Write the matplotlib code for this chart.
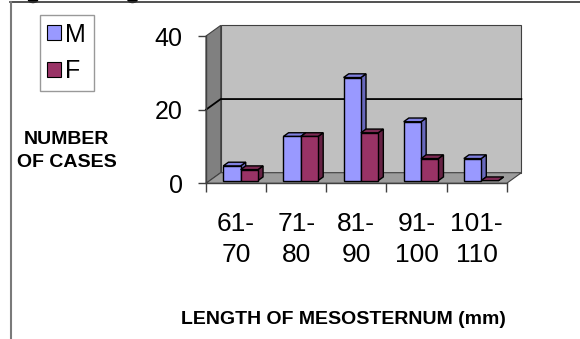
import matplotlib
matplotlib.use("Agg")
import matplotlib.pyplot as plt
from matplotlib.patches import Polygon, Patch, Ellipse
from matplotlib.lines import Line2D

# Data
categories = ["61-\n70", "71-\n80", "81-\n90", "91-\n100", "101-\n110"]
male = [4, 12, 28, 16, 6]
female = [3, 12, 13, 6, 0]
y_ticks = [0, 20, 40]
series_names = ["M", "F"]

plt.rcParams["font.family"] = ["Liberation Sans", "DejaVu Sans"]

W, H = 580, 339
fig = plt.figure(figsize=(W / 100, H / 100), dpi=100)
fig.patch.set_facecolor("white")

# front plane of the 3-D box
ax_l, ax_r, ax_t, ax_b = 206, 506.7, 36.0, 183.3
ax = fig.add_axes([ax_l / W, 1 - ax_b / H, (ax_r - ax_l) / W, (ax_b - ax_t) / H])
n = len(categories)
ymax = y_ticks[-1]
ax.set_xlim(0, n)
ax.set_ylim(0, ymax)
ax.set_facecolor("none")

# depth offset of the box (back plane relative to front plane), in data units
DX = 14.7 / ((ax_r - ax_l) / n)
DY = 10.6 / ((ax_b - ax_t) / ymax)


def poly(pts, fc, ec="#404040", lw=0.8, z=1):
    ax.add_patch(Polygon(pts, closed=True, facecolor=fc, edgecolor=ec,
                         linewidth=lw, clip_on=False, zorder=z))


# walls and floor
poly([(0, 0), (DX, DY), (DX, ymax + DY), (0, ymax)], "#808080", z=0.5)
poly([(DX, DY), (n + DX, DY), (n + DX, ymax + DY), (DX, ymax + DY)], "#C0C0C0", z=0.5)
poly([(0, 0), (DX, DY), (n + DX, DY), (n, 0)], "#9C9C9C", z=0.6)

# gridlines on side and back walls
for g in y_ticks[1:-1]:
    ax.plot([0, DX, n + DX], [g, g + DY, g + DY], color="black", lw=1.3,
            clip_on=False, zorder=0.8)

# 3-D columns
bw = 0.288
d0, dd = 0.25, 0.35
face_colors = {
    "M": ("#9999FF", "#8080E0", "#6868BC"),
    "F": ("#993366", "#7D2A54", "#662244"),
}
for i in range(n):
    for j, (name, vals) in enumerate(zip(series_names, [male, female])):
        front, top, side = face_colors[name]
        v = vals[i]
        x0 = i + 0.226 + j * bw + d0 * DX
        y0 = d0 * DY
        ox, oy = dd * DX, dd * DY
        z = 2 + i + j * 0.1
        poly([(x0 + bw, y0), (x0 + bw + ox, y0 + oy), (x0 + bw + ox, y0 + v + oy),
              (x0 + bw, y0 + v)], side, ec="black", lw=1.0, z=z)
        poly([(x0, y0 + v), (x0 + bw, y0 + v), (x0 + bw + ox, y0 + v + oy),
              (x0 + ox, y0 + v + oy)], top, ec="black", lw=1.0, z=z)
        if v > 0:
            poly([(x0, y0), (x0 + bw, y0), (x0 + bw, y0 + v), (x0, y0 + v)],
                 front, ec="black", lw=1.0, z=z)

# axes
for s in ["top", "right"]:
    ax.spines[s].set_visible(False)
for s in ["left", "bottom"]:
    ax.spines[s].set_color("#404040")
    ax.spines[s].set_linewidth(1.0)
    ax.spines[s].set_zorder(1)

ax.set_yticks(y_ticks)
ax.set_yticklabels([str(t) for t in y_ticks])
ax.tick_params(axis="y", direction="out", length=5.8, width=1.0, color="#404040",
               pad=11, labelsize=18)
ax.set_xticks(range(n + 1))
ax.set_xticklabels([""] * (n + 1))
ax.tick_params(axis="x", which="major", direction="out", length=6.5, width=1.0,
               color="#404040")
ax.set_xticks([i + 0.5 for i in range(n)], minor=True)
ax.set_xticklabels(categories, minor=True, fontsize=19, linespacing=1.35)
ax.tick_params(axis="x", which="minor", length=0, pad=21)

# axis titles
fig.text(66.5 / W, 1 - 151 / H, "NUMBER\nOF CASES", ha="center", va="center",
         fontsize=14, fontweight="bold", linespacing=1.4)
fig.text(343 / W, 1 - 319.5 / H, "LENGTH OF MESOSTERNUM (mm)", ha="center",
         va="center", fontsize=14, fontweight="bold")

# legend
handles = [Patch(facecolor=face_colors[s][0], edgecolor="black", linewidth=0.8)
           for s in series_names]
leg = fig.legend(handles, series_names, loc="upper left",
                 bbox_to_anchor=(39.5 / W, 1 - 15 / H), frameon=True, fancybox=False,
                 edgecolor="#808080", fontsize=18, handlelength=0.55,
                 handleheight=0.55, handletextpad=0.18, labelspacing=0.5,
                 borderpad=0.3, borderaxespad=0)
leg.get_frame().set_linewidth(1.0)

# surrounding frame lines
fig.add_artist(Line2D([10 / W, 1], [1 - 2 / H, 1 - 2 / H], color="#333333",
                      lw=1.2, transform=fig.transFigure))
fig.add_artist(Line2D([11 / W, 11 / W], [0, 1 - 2 / H], color="#7A7A7A",
                      lw=1.5, transform=fig.transFigure))
for cx in (33, 132.5):
    fig.add_artist(Ellipse((cx / W, 1), 9 / W, 5 / H, color="black",
                           transform=fig.transFigure))

fig.savefig("out.png", dpi=100)
